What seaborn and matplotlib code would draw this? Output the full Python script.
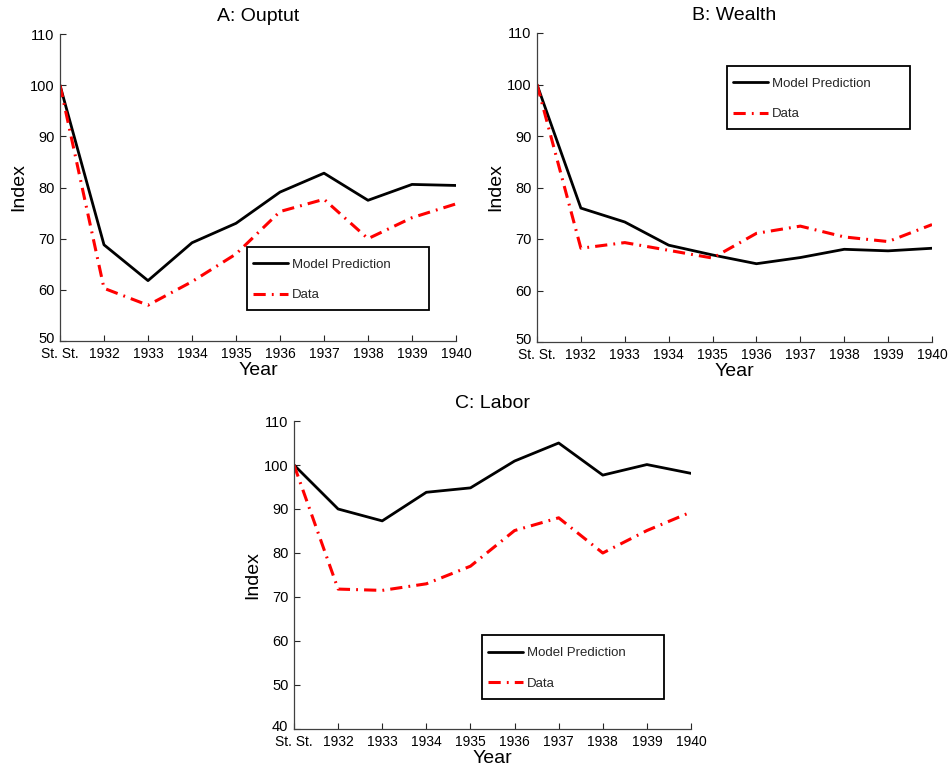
import numpy as np
import pandas as pd
import matplotlib
matplotlib.use("Agg")
import matplotlib.pyplot as plt
import matplotlib.transforms as mtransforms
from matplotlib.patches import Rectangle
import seaborn as sns

years = ["St. St.", "1932", "1933", "1934", "1935", "1936", "1937", "1938", "1939", "1940"]

output_model = [100.0, 68.8, 61.8, 69.2, 73.0, 79.1, 82.8, 77.5, 80.6, 80.4]
output_data = [100.0, 60.3, 57.0, 61.6, 67.0, 75.3, 77.7, 70.0, 74.1, 76.8]

wealth_model = [100.0, 76.0, 73.3, 68.8, 66.9, 65.2, 66.4, 68.0, 67.7, 68.2]
wealth_data = [100.0, 68.2, 69.3, 67.8, 66.3, 71.1, 72.5, 70.4, 69.5, 72.8]

labor_model = [100.0, 90.0, 87.3, 93.8, 94.8, 100.9, 105.0, 97.7, 100.1, 98.1]
labor_data = [100.0, 71.8, 71.5, 73.0, 77.0, 85.1, 88.0, 80.0, 85.1, 89.3]

titles = ["A: Ouptut", "B: Wealth", "C: Labor"]

sns.set_style("ticks")
plt.rcParams["font.family"] = ["Liberation Sans", "DejaVu Sans"]
plt.rcParams["xtick.direction"] = "in"
plt.rcParams["ytick.direction"] = "in"

W, H = 950, 767
fig = plt.figure(figsize=(W / 100, H / 100), dpi=100)

def px_axes(l, t, r, b):
    return fig.add_axes([l / W, 1 - b / H, (r - l) / W, (b - t) / H])

# layout in figure pixels: axes rect (l, t, r, b) and legend box (l, t, r, b)
panels = [
    dict(rect=(60, 34, 456, 341), box=(247, 247, 429, 310), ylim=(50, 110),
         model=output_model, data=output_data, yt=np.arange(50, 111, 10)),
    dict(rect=(537, 33, 932, 342), box=(727, 66, 910, 129), ylim=(50, 110),
         model=wealth_model, data=wealth_data, yt=np.arange(50, 111, 10)),
    dict(rect=(294, 421, 691, 729), box=(482, 635, 664, 699), ylim=(40, 110),
         model=labor_model, data=labor_data, yt=np.arange(40, 111, 10)),
]

for p, title in zip(panels, titles):
    l, t, r, b = p["rect"]
    ax = px_axes(l, t, r, b)
    xpos = np.arange(len(years))
    df = pd.DataFrame({"x": xpos, "model": p["model"], "data": p["data"]})
    sns.lineplot(data=df, x="x", y="model", ax=ax, color="black", lw=2.0,
                 label="Model Prediction")
    sns.lineplot(data=df, x="x", y="data", ax=ax, color="#ff0000", lw=2.2,
                 linestyle=(0, (4.0, 2.0, 0.6, 2.0)), label="Data")
    ax.set_xlim(0, 9)
    ax.set_ylim(*p["ylim"])
    ax.set_xticks(xpos)
    ax.set_xticklabels(years, fontsize=10)
    ax.set_yticks(p["yt"])
    ax.set_yticklabels([str(v) for v in p["yt"]], fontsize=10.5)
    ax.tick_params(axis="x", length=4, width=0.8, pad=4.5, colors="#262626", labelcolor="black")
    ax.tick_params(axis="y", length=4, width=0.8, pad=4, colors="#262626", labelcolor="black")
    # lift the lowest y label a touch so it sits just above "St. St."
    low = ax.get_yticklabels()[0]
    low.set_transform(low.get_transform() +
                      mtransforms.ScaledTranslation(0, 2.5 / 72, fig.dpi_scale_trans))
    for s in ["top", "right"]:
        ax.spines[s].set_visible(False)
    for s in ["left", "bottom"]:
        ax.spines[s].set_color("#404040")
        ax.spines[s].set_linewidth(0.9)
    ax.set_title(title, fontsize=14, pad=9, color="black")
    ax.set_xlabel("Year", fontsize=14, labelpad=0.5, color="black")
    ax.set_ylabel("Index", fontsize=14, labelpad=1.5, color="black")

    # legend box
    bl, bt, br, bb = p["box"]
    aw, ah = r - l, b - t
    fx0 = (bl - l) / aw
    fy0 = (b - bb) / ah
    rect = Rectangle((fx0, fy0), (br - bl) / aw, (bb - bt) / ah, transform=ax.transAxes,
                     facecolor="white", edgecolor="black", linewidth=1.3, zorder=5,
                     clip_on=False)
    ax.add_patch(rect)
    leg = ax.legend(loc="center left",
                    bbox_to_anchor=((bl + 6 - l) / aw, (b - (bt + bb) / 2 - 1.5) / ah),
                    fontsize=9.5, frameon=False, borderaxespad=0, borderpad=0,
                    handlelength=2.65, handletextpad=0.3, labelspacing=1.38)
    leg.set_zorder(6)

fig.savefig("out.png", dpi=100)
